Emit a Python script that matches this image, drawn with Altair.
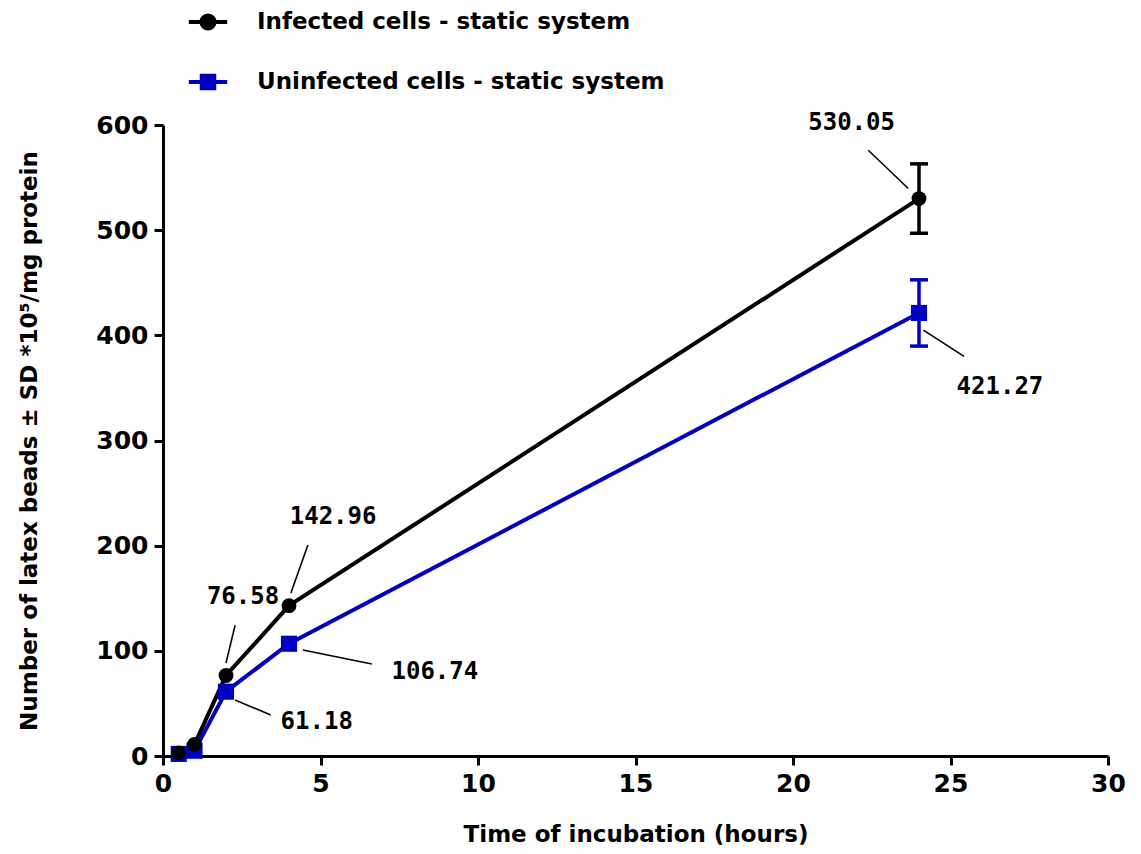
import altair as alt
import pandas as pd

# ---------------- data ----------------
series_names = ["Infected cells - static system", "Uninfected cells - static system"]
hours = [0.5, 1, 2, 4, 24]
infected = [3.0, 11.0, 76.58, 142.96, 530.05]
infected_sd = [0, 0, 0, 0, 33.0]
uninfected = [2.0, 5.0, 61.18, 106.74, 421.27]
uninfected_sd = [0, 0, 0, 0, 31.5]

# annotation labels (value, label position, leader line start/end in data units)
ann_value = [530.05, 421.27, 142.96, 76.58, 106.74, 61.18]
ann_x = [21.86, 26.57, 5.40, 2.54, 8.63, 4.88]
ann_y = [602, 351, 227, 151, 80, 32.6]
lead_x1 = [22.39, 24.14, 4.60, 2.29, 4.44, 2.29]
lead_y1 = [576, 405, 200.6, 124.5, 100.8, 53.2]
lead_x2 = [23.66, 25.43, 4.06, 2.00, 6.63, 3.42]
lead_y2 = [539.6, 380, 155, 88.4, 87.5, 39]

# ---------------- styles ----------------
colors = {series_names[0]: "#000000", series_names[1]: "#0000C0"}
shapes = {series_names[0]: "circle", series_names[1]: "square"}
# legend glyphs: line segment with a marker (unit = sqrt(size)/2 px)
legend_paths = [
    "M-1.6,0H1.6M0.55,0A0.55,0.55 0 1,1 -0.55,0A0.55,0.55 0 1,1 0.55,0Z",
    "M-1.6,0H1.6M-0.52,-0.52H0.52V0.52H-0.52Z",
]

rows = []
for name, vals, sds in [(series_names[0], infected, infected_sd),
                        (series_names[1], uninfected, uninfected_sd)]:
    for h, v, s in zip(hours, vals, sds):
        rows.append({"series": name, "hours": h, "value": v, "sd": s,
                     "lo": v - s, "hi": v + s,
                     "col": colors[name], "shp": shapes[name]})
df = pd.DataFrame(rows)
# draw the blue series first so the black one sits on top
df["order"] = df["series"].map({series_names[1]: 0, series_names[0]: 1})
df = df.sort_values(["order", "hours"])

ann = pd.DataFrame({
    "label": [f"{v:.2f}" for v in ann_value],
    "x": ann_x, "y": ann_y,
    "x1": lead_x1, "y1": lead_y1, "x2": lead_x2, "y2": lead_y2,
})

FONT = "DejaVu Sans"
xscale = alt.Scale(domain=[0, 30], nice=False, zero=False)
yscale = alt.Scale(domain=[0, 600], nice=False)

xaxis = alt.Axis(title="Time of incubation (hours)", values=[0, 5, 10, 15, 20, 25, 30],
                 grid=False, domainColor="black", domainWidth=3, tickColor="black",
                 tickWidth=3, tickSize=9, labelFont=FONT, labelFontSize=25,
                 labelFontWeight="bold", labelColor="black", labelPadding=6,
                 titleFont=FONT, titleFontSize=23, titleFontWeight="bold",
                 titleColor="black", titlePadding=27, labelFlush=False)
yaxis = alt.Axis(title="Number of latex beads ± SD *10⁵/mg protein",
                 values=[0, 100, 200, 300, 400, 500, 600],
                 grid=False, domainColor="black", domainWidth=3, tickColor="black",
                 tickWidth=3, tickSize=9, labelFont=FONT, labelFontSize=25,
                 labelFontWeight="bold", labelColor="black", labelPadding=6,
                 titleFont=FONT, titleFontSize=23, titleFontWeight="bold",
                 titleColor="black", titlePadding=54, labelFlush=False)

base = alt.Chart(df)

x_enc = alt.X("hours:Q", scale=xscale, axis=xaxis)
y_enc = alt.Y("value:Q", scale=yscale, axis=yaxis)

lines = base.mark_line(strokeWidth=4).encode(
    x=x_enc, y=y_enc,
    color=alt.Color("col:N", scale=None),
    detail="series:N",
    order="hours:Q",
)

err = base.transform_filter("datum.sd > 0").mark_rule(strokeWidth=3.5, opacity=1).encode(
    x="hours:Q", y="lo:Q", y2="hi:Q",
    color=alt.Color("col:N", scale=None),
)
cap_lo = base.transform_filter("datum.sd > 0").mark_tick(
    orient="horizontal", size=18, thickness=3.5, opacity=1).encode(
    x="hours:Q", y="lo:Q", color=alt.Color("col:N", scale=None))
cap_hi = base.transform_filter("datum.sd > 0").mark_tick(
    orient="horizontal", size=18, thickness=3.5, opacity=1).encode(
    x="hours:Q", y="hi:Q", color=alt.Color("col:N", scale=None))

points = base.mark_point(filled=True, opacity=1).encode(
    x="hours:Q", y="value:Q",
    color=alt.Color("col:N", scale=None),
    shape=alt.Shape("shp:N", scale=None),
    size=alt.Size("shp:N", scale=alt.Scale(domain=["circle", "square"], range=[220, 260]),
                  legend=None),
)

# legend only (no marks drawn)
leg = alt.Legend(title=None, orient="none", legendX=31, legendY=-117,
                 symbolSize=576, symbolStrokeWidth=4, labelFont=FONT,
                 labelFontSize=23, labelFontWeight="bold", labelColor="black",
                 labelOffset=35, rowPadding=30, labelLimit=600)
legend_layer = base.transform_filter("false").mark_point(filled=True).encode(
    x="hours:Q", y="value:Q",
    fill=alt.Fill("series:N", scale=alt.Scale(domain=series_names,
                                              range=[colors[n] for n in series_names]),
                  legend=leg),
    stroke=alt.Stroke("series:N", scale=alt.Scale(domain=series_names,
                                                  range=[colors[n] for n in series_names]),
                      legend=leg),
    shape=alt.Shape("series:N", scale=alt.Scale(domain=series_names, range=legend_paths),
                    legend=leg),
)

ann_base = alt.Chart(ann)
leaders = ann_base.mark_rule(color="black", strokeWidth=1.6).encode(
    x="x1:Q", y="y1:Q", x2="x2:Q", y2="y2:Q")
labels = ann_base.mark_text(font="DejaVu Sans Mono", fontSize=24, fontWeight="bold",
                            color="black", align="center", baseline="middle").encode(
    x="x:Q", y="y:Q", text="label:N")

chart = alt.layer(lines, err, cap_lo, cap_hi, points, legend_layer, leaders, labels).resolve_scale(
    size="independent"
).properties(
    width=945, height=631,
    autosize=alt.AutoSizeParams(type="none"),
    padding={"left": 155, "top": 117, "right": 25, "bottom": 90},
).configure(
    background="white",
    view=alt.ViewConfig(stroke="transparent", strokeWidth=0),
)

chart.save("out.html", embed_options={"renderer": "svg", "actions": False})
